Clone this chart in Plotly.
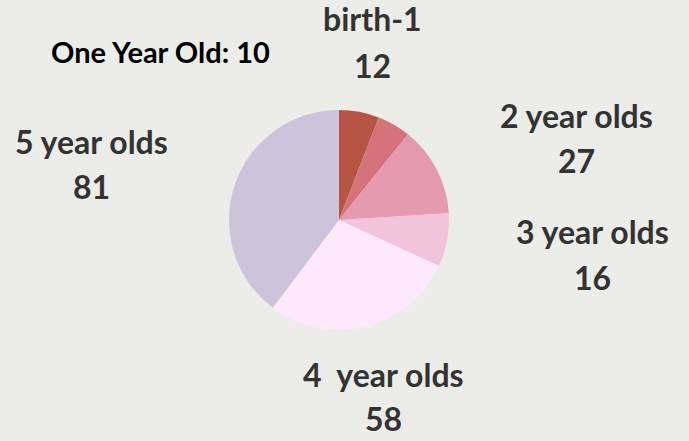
import plotly.graph_objects as go

labels = ["birth-1", "One Year Old", "2 year olds", "3 year olds", "4  year olds", "5 year olds"]
values = [12, 10, 27, 16, 58, 81]
colors = ["#b85445", "#d4737a", "#e59ab0", "#f1c4dc", "#fde9fb", "#cdc4dc"]

W, H = 689, 441
# pie placement in pixels
cx, cy, r = 339, 220, 110

fig = go.Figure(go.Pie(
    labels=labels, values=values, sort=False, direction="clockwise", rotation=0,
    marker=dict(colors=colors, line=dict(width=0)),
    textinfo="none", hoverinfo="label+value", showlegend=False,
    domain=dict(x=[(cx - r) / W, (cx + r) / W], y=[1 - (cy + r) / H, 1 - (cy - r) / H]),
))

font_family = "Lato, sans-serif"

# label positions in pixels (name line center, value line center)
two_line = {
    0: (372, 18, 65),
    2: (576, 115, 160),
    3: (592, 232, 277),
    4: (383, 374, 418),
    5: (91, 141, 186),
}
annotations = []
for i, (x, y1, y2) in two_line.items():
    for txt, y in ((labels[i], y1), (str(values[i]), y2)):
        annotations.append(dict(
            text=txt, x=x / W, y=1 - y / H, xref="paper", yref="paper",
            xanchor="center", yanchor="middle", showarrow=False,
            font=dict(family=font_family, size=32, color="#333333", weight="bold"),
        ))
annotations.append(dict(
    text=f"{labels[1]}: {values[1]}", x=160 / W, y=1 - 51 / H, xref="paper", yref="paper",
    xanchor="center", yanchor="middle", showarrow=False,
    font=dict(family=font_family, size=29, color="#000000", weight="bold"),
))

fig.update_layout(
    width=W, height=H, margin=dict(l=0, r=0, t=0, b=0),
    paper_bgcolor="#ecede8", plot_bgcolor="#ecede8",
    annotations=annotations,
)
fig.write_html("out.html", config={"displayModeBar": False},
               post_script="document.body.style.margin='0';")
